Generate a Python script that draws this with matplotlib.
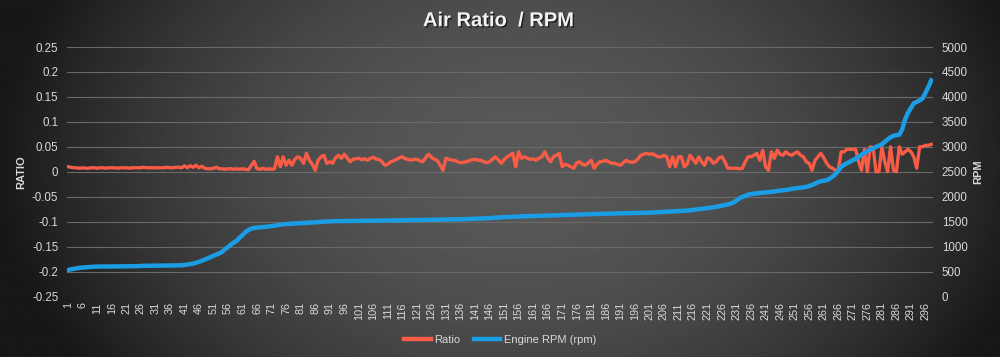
import numpy as np
import matplotlib
matplotlib.use("Agg")
import matplotlib.pyplot as plt
import matplotlib.patheffects as pe
from matplotlib.ticker import MultipleLocator, FuncFormatter
from matplotlib.lines import Line2D

plt.rcParams['font.family'] = ['Liberation Sans', 'DejaVu Sans']

# air ratio per sample
ratio = [
    0.010, 0.009, 0.008, 0.008, 0.007, 0.008, 0.007, 0.007, 0.008, 0.008,
    0.007, 0.008, 0.008, 0.007, 0.008, 0.008, 0.008, 0.007, 0.008, 0.008,
    0.008, 0.007, 0.008, 0.008, 0.008, 0.008, 0.009, 0.008, 0.008, 0.008,
    0.008, 0.008, 0.008, 0.008, 0.009, 0.008, 0.008, 0.009, 0.009, 0.008,
    0.012, 0.008, 0.012, 0.009, 0.013, 0.008, 0.011, 0.007, 0.006, 0.006,
    0.007, 0.009, 0.006, 0.006, 0.005, 0.006, 0.006, 0.005, 0.006, 0.005,
    0.006, 0.005, 0.004, 0.012, 0.021, 0.006, 0.005, 0.007, 0.005, 0.006,
    0.005, 0.006, 0.030, 0.010, 0.030, 0.013, 0.023, 0.013, 0.025, 0.030,
    0.027, 0.017, 0.037, 0.023, 0.015, 0.003, 0.023, 0.030, 0.033, 0.017,
    0.020, 0.017, 0.028, 0.033, 0.027, 0.035, 0.028, 0.020, 0.025, 0.026,
    0.027, 0.024, 0.026, 0.023, 0.027, 0.029, 0.025, 0.025, 0.020, 0.013,
    0.015, 0.020, 0.022, 0.025, 0.028, 0.030, 0.026, 0.025, 0.023, 0.025,
    0.025, 0.022, 0.020, 0.028, 0.035, 0.029, 0.025, 0.023, 0.013, 0.003,
    0.027, 0.025, 0.023, 0.023, 0.020, 0.018, 0.019, 0.020, 0.022, 0.024,
    0.025, 0.023, 0.023, 0.020, 0.018, 0.020, 0.025, 0.030, 0.024, 0.017,
    0.024, 0.030, 0.033, 0.037, 0.010, 0.040, 0.027, 0.030, 0.027, 0.025,
    0.026, 0.023, 0.027, 0.030, 0.040, 0.028, 0.020, 0.030, 0.033, 0.037,
    0.010, 0.015, 0.013, 0.010, 0.007, 0.018, 0.020, 0.015, 0.013, 0.018,
    0.023, 0.007, 0.015, 0.020, 0.021, 0.023, 0.020, 0.017, 0.017, 0.015,
    0.013, 0.018, 0.023, 0.020, 0.019, 0.020, 0.025, 0.033, 0.035, 0.037,
    0.035, 0.036, 0.033, 0.030, 0.030, 0.033, 0.030, 0.010, 0.030, 0.010,
    0.030, 0.030, 0.010, 0.015, 0.033, 0.025, 0.017, 0.030, 0.020, 0.013,
    0.028, 0.025, 0.017, 0.020, 0.028, 0.030, 0.020, 0.007, 0.007, 0.007,
    0.007, 0.006, 0.007, 0.020, 0.030, 0.030, 0.033, 0.037, 0.023, 0.043,
    0.010, 0.003, 0.040, 0.027, 0.043, 0.035, 0.033, 0.040, 0.035, 0.033,
    0.037, 0.040, 0.033, 0.030, 0.020, 0.017, 0.003, 0.023, 0.030, 0.037,
    0.028, 0.017, 0.010, 0.007, 0.003, 0.003, 0.040, 0.040, 0.045, 0.045,
    0.045, 0.045, 0.020, 0.003, 0.045, 0.000, 0.050, 0.048, 0.000, 0.000,
    0.050, 0.020, 0.000, 0.050, 0.003, 0.000, 0.050, 0.035, 0.040, 0.045,
    0.040, 0.030, 0.007, 0.050, 0.050, 0.053, 0.053, 0.055,
]

# engine rpm per sample
rpm = [
    530, 545, 555, 565, 575, 580, 585, 590, 595, 598,
    600, 600, 600, 601, 602, 602, 603, 603, 604, 605,
    605, 606, 606, 607, 608, 612, 615, 616, 617, 617,
    618, 618, 619, 620, 620, 621, 622, 623, 624, 626,
    630, 640, 648, 660, 675, 695, 715, 740, 765, 790,
    815, 840, 865, 895, 950, 990, 1040, 1080, 1120, 1180,
    1230, 1290, 1330, 1360, 1375, 1382, 1387, 1390, 1395, 1405,
    1412, 1418, 1430, 1440, 1447, 1452, 1455, 1460, 1463, 1466,
    1470, 1474, 1477, 1480, 1483, 1486, 1490, 1495, 1500, 1503,
    1506, 1508, 1510, 1511, 1512, 1513, 1513, 1514, 1514, 1515,
    1515, 1516, 1517, 1518, 1519, 1520, 1520, 1521, 1522, 1523,
    1524, 1525, 1526, 1527, 1528, 1528, 1529, 1530, 1531, 1532,
    1532, 1533, 1534, 1535, 1536, 1537, 1538, 1539, 1540, 1541,
    1542, 1543, 1544, 1545, 1546, 1548, 1550, 1552, 1554, 1556,
    1558, 1560, 1562, 1565, 1568, 1572, 1576, 1580, 1584, 1587,
    1590, 1593, 1596, 1599, 1601, 1603, 1605, 1607, 1609, 1611,
    1613, 1615, 1617, 1619, 1621, 1623, 1625, 1627, 1629, 1631,
    1632, 1634, 1636, 1638, 1640, 1642, 1643, 1645, 1647, 1649,
    1650, 1652, 1654, 1656, 1658, 1660, 1662, 1664, 1665, 1666,
    1667, 1668, 1669, 1670, 1671, 1672, 1674, 1676, 1677, 1678,
    1680, 1683, 1686, 1690, 1693, 1696, 1700, 1702, 1705, 1709,
    1712, 1714, 1717, 1720, 1728, 1735, 1742, 1750, 1758, 1765,
    1773, 1780, 1787, 1797, 1808, 1820, 1832, 1845, 1862, 1887,
    1925, 1967, 1995, 2015, 2040, 2055, 2060, 2068, 2075, 2080,
    2086, 2092, 2099, 2106, 2112, 2118, 2126, 2135, 2145, 2158,
    2165, 2172, 2180, 2188, 2196, 2215, 2235, 2260, 2290, 2310,
    2320, 2330, 2360, 2400, 2450, 2520, 2600, 2640, 2670, 2700,
    2730, 2760, 2800, 2840, 2875, 2910, 2940, 2970, 3000, 3025,
    3050, 3100, 3150, 3190, 3220, 3235, 3240, 3350, 3550, 3680,
    3780, 3870, 3900, 3930, 3970, 4080, 4200, 4330,
]

samples = list(range(1, len(ratio) + 1))
tick_samples = samples[::5]

RED = '#f95c46'
BLUE = '#1b9de6'
TXT = '#d9d9d9'

fig = plt.figure(figsize=(10, 3.57), dpi=100)

# dark radial background
bg = fig.add_axes([0, 0, 1, 1], zorder=-10)
gx, gy = np.meshgrid(np.linspace(0, 1, 400), np.linspace(0, 1, 200))
d2 = ((gx - 0.52) / 0.5) ** 2 + ((gy - 0.45) / 1.0) ** 2
shade = np.clip(0.345 - 0.23 * d2, 0.09, 1)
bg.imshow(shade, cmap='gray', vmin=0, vmax=1, aspect='auto', interpolation='bilinear')
bg.axis('off')

ax = fig.add_axes([0.0667, 0.1695, 0.866, 0.6988])
ax.set_facecolor('none')
ax.plot(samples, ratio, color=RED, lw=2.4, solid_joinstyle='round')
ax.set_ylim(-0.25, 0.25)
ax.set_xlim(0.5, len(samples) + 0.5)
ax.yaxis.set_major_locator(MultipleLocator(0.05))
ax.yaxis.set_major_formatter(FuncFormatter(
    lambda v, p: '0' if abs(v) < 1e-9 else '%g' % round(v, 2)))
ax.grid(axis='y', color='#6a6a6a', lw=0.8)
ax.set_axisbelow(True)
ax.set_xticks(tick_samples)
ax.set_xticklabels([str(s) for s in tick_samples], rotation=90)
ax.set_ylabel('RATIO', color=TXT, fontsize=8, fontweight='bold', labelpad=4)

ax2 = ax.twinx()
ax2.plot(samples, rpm, color=BLUE, lw=3.2, solid_joinstyle='round')
ax2.set_ylim(0, 5000)
ax2.yaxis.set_major_locator(MultipleLocator(500))
ax2.yaxis.set_major_formatter(FuncFormatter(lambda v, p: '%d' % v))
ax2.set_ylabel('RPM', color=TXT, fontsize=8, fontweight='bold', labelpad=4)

for a in (ax, ax2):
    for s in a.spines.values():
        s.set_visible(False)
    a.tick_params(length=0, colors=TXT, labelsize=8.3)
ax.tick_params(axis='x', labelsize=7.8, pad=4)
ax.tick_params(axis='y', pad=6)
ax2.tick_params(axis='y', pad=6.5)

fig.text(0.4985, 0.942, 'Air Ratio  / RPM', ha='center', va='center',
         fontsize=14.5, fontweight='bold', color='#f2f2f2',
         path_effects=[pe.withSimplePatchShadow(offset=(1, -1), shadow_rgbFace='black', alpha=0.6)])

handles = [Line2D([], [], color=RED, lw=3.2), Line2D([], [], color=BLUE, lw=3.2)]
fig.legend(handles, ['Ratio', 'Engine RPM (rpm)'], loc='center', bbox_to_anchor=(0.5, 0.048),
           ncol=2, frameon=False, fontsize=8, labelcolor=TXT, handlelength=2.4,
           handletextpad=0.3, columnspacing=1.2)

fig.savefig('out.png', dpi=100)
